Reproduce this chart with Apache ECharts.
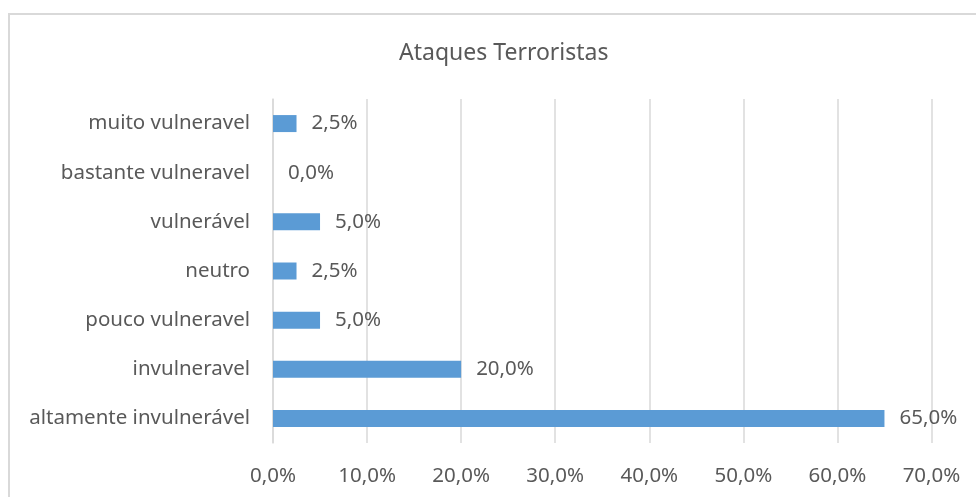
<!DOCTYPE html>
<html>
<head>
<meta charset="utf-8">
<script src="https://cdn.jsdelivr.net/npm/echarts@6/dist/echarts.min.js"></script>
<style>
  html, body { margin: 0; padding: 0; background: #ffffff; }
  #frame { position: absolute; left: 8px; top: 13px; width: 990px; height: 520px; border: 2px solid #d9d9d9; box-sizing: border-box; }
  #chart { position: absolute; left: 0; top: 0; width: 976px; height: 497px; }
</style>
</head>
<body>
<div id="frame"></div>
<div id="chart"></div>
<script>
// Survey answers, listed bottom to top as they appear on the category axis
const categories = [
  'altamente invulnerável',
  'invulneravel',
  'pouco vulneravel',
  'neutro',
  'vulnerável',
  'bastante vulneravel',
  'muito vulneravel'
];
// Share of answers per category, in percent
const shares = [65.0, 20.0, 5.0, 2.5, 5.0, 0.0, 2.5];
const titleText = 'Ataques Terroristas';

const fmt = v => v.toFixed(1).replace('.', ',') + '%';
const font = 'Noto Sans';
const textColor = '#595959';
const labelSize = 20.5;

const chart = echarts.init(document.getElementById('chart'), null, { renderer: 'canvas' });
chart.setOption({
  backgroundColor: 'transparent',
  animation: false,
  title: {
    text: titleText,
    left: 394,
    top: 37,
    textStyle: { fontFamily: font, fontSize: 23, fontWeight: 'normal', color: textColor }
  },
  grid: { left: 273, right: 44.5, top: 99, bottom: 54, containLabel: false },
  xAxis: {
    type: 'value',
    min: 0,
    max: 70,
    interval: 10,
    axisLine: { show: false },
    axisTick: { show: false },
    splitLine: { lineStyle: { color: '#d9d9d9', width: 1.5 } },
    axisLabel: {
      formatter: fmt,
      margin: 23,
      fontFamily: font,
      fontSize: labelSize,
      color: textColor
    }
  },
  yAxis: {
    type: 'category',
    data: categories,
    axisLine: { show: true, lineStyle: { color: '#d9d9d9', width: 1.5 } },
    axisTick: { show: false },
    axisLabel: {
      margin: 23,
      fontFamily: font,
      fontSize: labelSize,
      color: textColor
    }
  },
  series: [{
    type: 'bar',
    data: shares,
    barWidth: 17,
    itemStyle: { color: '#5b9bd5' },
    label: {
      show: true,
      position: 'right',
      distance: 15,
      formatter: p => fmt(p.value),
      fontFamily: font,
      fontSize: labelSize,
      color: textColor
    }
  }]
});
</script>
</body>
</html>
